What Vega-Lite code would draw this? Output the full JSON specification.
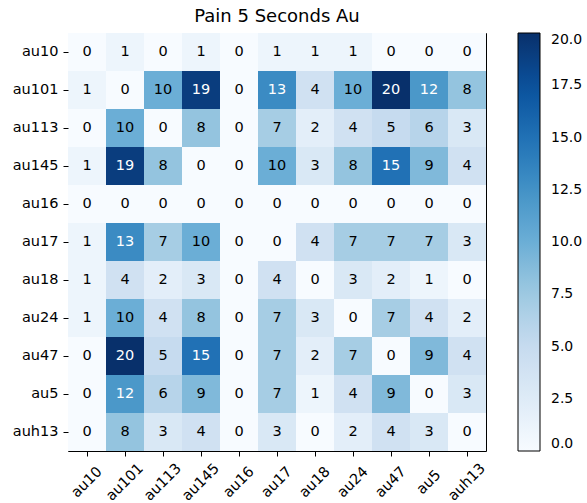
{
  "$schema": "https://vega.github.io/schema/vega-lite/v6.json",
  "autosize": {"type": "none"},
  "padding": {"left": 68, "top": 33, "right": 101, "bottom": 52},
  "width": 418,
  "height": 418,
  "background": "white",
  "title": {
    "text": "Pain 5 Seconds Au",
    "font": "DejaVu Sans",
    "fontSize": 18,
    "fontWeight": "normal",
    "color": "black",
    "anchor": "middle",
    "offset": 7
  },
  "config": {
    "view": {"stroke": "black", "strokeWidth": 1},
    "axis": {
      "domain": false,
      "grid": false,
      "ticks": true,
      "tickColor": "black",
      "tickSize": 5,
      "labelFont": "DejaVu Sans",
      "labelFontSize": 14.5,
      "labelColor": "black",
      "labelPadding": 5,
      "title": null
    }
  },
  "data": {
    "values": [
      {"r": "au10", "c": "au10", "v": 0}, {"r": "au10", "c": "au101", "v": 1}, {"r": "au10", "c": "au113", "v": 0}, {"r": "au10", "c": "au145", "v": 1}, {"r": "au10", "c": "au16", "v": 0}, {"r": "au10", "c": "au17", "v": 1}, {"r": "au10", "c": "au18", "v": 1}, {"r": "au10", "c": "au24", "v": 1}, {"r": "au10", "c": "au47", "v": 0}, {"r": "au10", "c": "au5", "v": 0}, {"r": "au10", "c": "auh13", "v": 0},
      {"r": "au101", "c": "au10", "v": 1}, {"r": "au101", "c": "au101", "v": 0}, {"r": "au101", "c": "au113", "v": 10}, {"r": "au101", "c": "au145", "v": 19}, {"r": "au101", "c": "au16", "v": 0}, {"r": "au101", "c": "au17", "v": 13}, {"r": "au101", "c": "au18", "v": 4}, {"r": "au101", "c": "au24", "v": 10}, {"r": "au101", "c": "au47", "v": 20}, {"r": "au101", "c": "au5", "v": 12}, {"r": "au101", "c": "auh13", "v": 8},
      {"r": "au113", "c": "au10", "v": 0}, {"r": "au113", "c": "au101", "v": 10}, {"r": "au113", "c": "au113", "v": 0}, {"r": "au113", "c": "au145", "v": 8}, {"r": "au113", "c": "au16", "v": 0}, {"r": "au113", "c": "au17", "v": 7}, {"r": "au113", "c": "au18", "v": 2}, {"r": "au113", "c": "au24", "v": 4}, {"r": "au113", "c": "au47", "v": 5}, {"r": "au113", "c": "au5", "v": 6}, {"r": "au113", "c": "auh13", "v": 3},
      {"r": "au145", "c": "au10", "v": 1}, {"r": "au145", "c": "au101", "v": 19}, {"r": "au145", "c": "au113", "v": 8}, {"r": "au145", "c": "au145", "v": 0}, {"r": "au145", "c": "au16", "v": 0}, {"r": "au145", "c": "au17", "v": 10}, {"r": "au145", "c": "au18", "v": 3}, {"r": "au145", "c": "au24", "v": 8}, {"r": "au145", "c": "au47", "v": 15}, {"r": "au145", "c": "au5", "v": 9}, {"r": "au145", "c": "auh13", "v": 4},
      {"r": "au16", "c": "au10", "v": 0}, {"r": "au16", "c": "au101", "v": 0}, {"r": "au16", "c": "au113", "v": 0}, {"r": "au16", "c": "au145", "v": 0}, {"r": "au16", "c": "au16", "v": 0}, {"r": "au16", "c": "au17", "v": 0}, {"r": "au16", "c": "au18", "v": 0}, {"r": "au16", "c": "au24", "v": 0}, {"r": "au16", "c": "au47", "v": 0}, {"r": "au16", "c": "au5", "v": 0}, {"r": "au16", "c": "auh13", "v": 0},
      {"r": "au17", "c": "au10", "v": 1}, {"r": "au17", "c": "au101", "v": 13}, {"r": "au17", "c": "au113", "v": 7}, {"r": "au17", "c": "au145", "v": 10}, {"r": "au17", "c": "au16", "v": 0}, {"r": "au17", "c": "au17", "v": 0}, {"r": "au17", "c": "au18", "v": 4}, {"r": "au17", "c": "au24", "v": 7}, {"r": "au17", "c": "au47", "v": 7}, {"r": "au17", "c": "au5", "v": 7}, {"r": "au17", "c": "auh13", "v": 3},
      {"r": "au18", "c": "au10", "v": 1}, {"r": "au18", "c": "au101", "v": 4}, {"r": "au18", "c": "au113", "v": 2}, {"r": "au18", "c": "au145", "v": 3}, {"r": "au18", "c": "au16", "v": 0}, {"r": "au18", "c": "au17", "v": 4}, {"r": "au18", "c": "au18", "v": 0}, {"r": "au18", "c": "au24", "v": 3}, {"r": "au18", "c": "au47", "v": 2}, {"r": "au18", "c": "au5", "v": 1}, {"r": "au18", "c": "auh13", "v": 0},
      {"r": "au24", "c": "au10", "v": 1}, {"r": "au24", "c": "au101", "v": 10}, {"r": "au24", "c": "au113", "v": 4}, {"r": "au24", "c": "au145", "v": 8}, {"r": "au24", "c": "au16", "v": 0}, {"r": "au24", "c": "au17", "v": 7}, {"r": "au24", "c": "au18", "v": 3}, {"r": "au24", "c": "au24", "v": 0}, {"r": "au24", "c": "au47", "v": 7}, {"r": "au24", "c": "au5", "v": 4}, {"r": "au24", "c": "auh13", "v": 2},
      {"r": "au47", "c": "au10", "v": 0}, {"r": "au47", "c": "au101", "v": 20}, {"r": "au47", "c": "au113", "v": 5}, {"r": "au47", "c": "au145", "v": 15}, {"r": "au47", "c": "au16", "v": 0}, {"r": "au47", "c": "au17", "v": 7}, {"r": "au47", "c": "au18", "v": 2}, {"r": "au47", "c": "au24", "v": 7}, {"r": "au47", "c": "au47", "v": 0}, {"r": "au47", "c": "au5", "v": 9}, {"r": "au47", "c": "auh13", "v": 4},
      {"r": "au5", "c": "au10", "v": 0}, {"r": "au5", "c": "au101", "v": 12}, {"r": "au5", "c": "au113", "v": 6}, {"r": "au5", "c": "au145", "v": 9}, {"r": "au5", "c": "au16", "v": 0}, {"r": "au5", "c": "au17", "v": 7}, {"r": "au5", "c": "au18", "v": 1}, {"r": "au5", "c": "au24", "v": 4}, {"r": "au5", "c": "au47", "v": 9}, {"r": "au5", "c": "au5", "v": 0}, {"r": "au5", "c": "auh13", "v": 3},
      {"r": "auh13", "c": "au10", "v": 0}, {"r": "auh13", "c": "au101", "v": 8}, {"r": "auh13", "c": "au113", "v": 3}, {"r": "auh13", "c": "au145", "v": 4}, {"r": "auh13", "c": "au16", "v": 0}, {"r": "auh13", "c": "au17", "v": 3}, {"r": "auh13", "c": "au18", "v": 0}, {"r": "auh13", "c": "au24", "v": 2}, {"r": "auh13", "c": "au47", "v": 4}, {"r": "auh13", "c": "au5", "v": 3}, {"r": "auh13", "c": "auh13", "v": 0}
    ]
  },
  "encoding": {
    "x": {
      "field": "c",
      "type": "nominal",
      "sort": ["au10", "au101", "au113", "au145", "au16", "au17", "au18", "au24", "au47", "au5", "auh13"],
      "scale": {"paddingInner": 0, "paddingOuter": 0},
      "axis": {"labelAngle": -45, "labelAlign": "center", "labelBaseline": "middle", "labelPadding": 26}
    },
    "y": {
      "field": "r",
      "type": "nominal",
      "sort": ["au10", "au101", "au113", "au145", "au16", "au17", "au18", "au24", "au47", "au5", "auh13"],
      "scale": {"paddingInner": 0, "paddingOuter": 0}
    }
  },
  "layer": [
    {
      "mark": {"type": "rect", "strokeWidth": 0},
      "encoding": {
        "color": {
          "field": "v",
          "type": "quantitative",
          "scale": {
            "type": "linear",
            "domain": [0, 2.5, 5, 7.5, 10, 12.5, 15, 17.5, 20],
            "range": ["#f7fbff", "#deebf7", "#c6dbef", "#9ecae1", "#6baed6", "#4292c6", "#2171b5", "#08519c", "#08306b"],
            "clamp": true
          },
          "legend": {
            "orient": "none",
            "legendX": 450,
            "legendY": 0,
            "title": null,
            "direction": "vertical",
            "gradientLength": 418,
            "gradientThickness": 22,
            "gradientStrokeColor": "black",
            "gradientStrokeWidth": 1,
            "values": [0, 2.5, 5, 7.5, 10, 12.5, 15, 17.5, 20],
            "format": ".1f",
            "labelFont": "DejaVu Sans",
            "labelFontSize": 14,
            "labelColor": "black",
            "labelBaseline": "middle",
            "labelOffset": 11,
            "labelOverlap": false
          }
        }
      }
    },
    {
      "mark": {"type": "text", "font": "DejaVu Sans", "fontSize": 14.5, "baseline": "middle", "align": "center"},
      "encoding": {
        "text": {"field": "v", "type": "quantitative"},
        "color": {
          "condition": {"test": "datum.v > 10", "value": "white"},
          "value": "black"
        }
      }
    }
  ]
}
